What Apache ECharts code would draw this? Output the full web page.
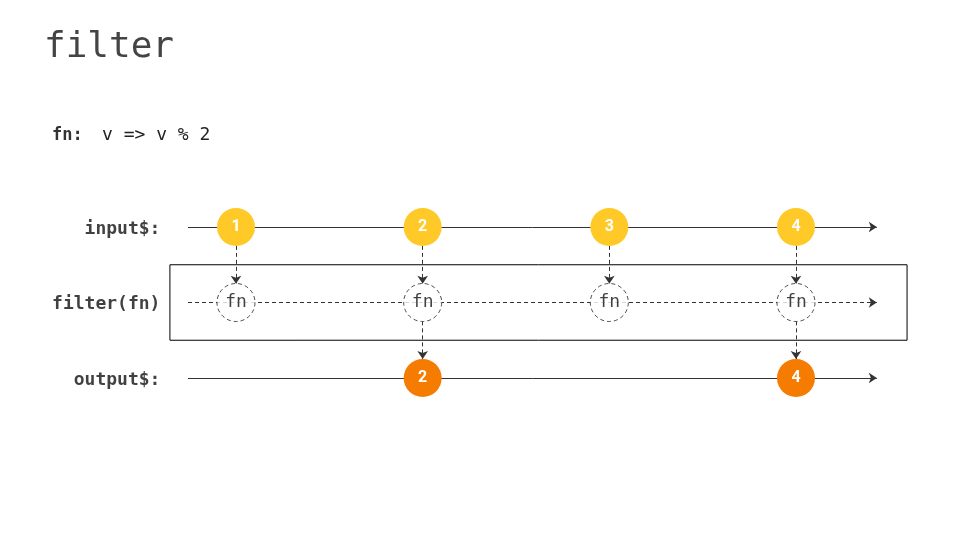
<!DOCTYPE html>
<html>
<head>
<meta charset="utf-8">
<script src="https://cdn.jsdelivr.net/npm/echarts@6/dist/echarts.min.js"></script>
<style>
  html, body { margin: 0; padding: 0; background: #fff; }
  #chart { width: 960px; height: 540px; }
</style>
</head>
<body>
<div id="chart"></div>
<script>
// marble diagram data
var inputTimes = [1, 2, 3, 4];
var inputValues = [1, 2, 3, 4];
var outputTimes = [2, 4];
var outputValues = [2, 4];
var rowLabels = ['input$:', 'filter(fn)', 'output$:'];
var rowIndex = [0, 1, 2];
var lineStart = 0.743;
var lineEnd = 4.433;

var MONO = '"DejaVu Sans Mono", "Liberation Mono", monospace';
var R = 0.25; // marble radius in row units

var chart = echarts.init(document.getElementById('chart'));

var hLines = function (row, dashed) {
  return {
    type: 'lines',
    coordinateSystem: 'cartesian2d',
    z: 1,
    symbol: ['none', 'arrow'],
    symbolSize: [5, 8],
    lineStyle: { color: '#333', width: 1, type: dashed ? [4, 3] : 'solid', opacity: 1 },
    data: [{ coords: [[lineStart, row], [lineEnd, row]] }],
    silent: true
  };
};

var vArrows = function (times, fromRow, toRow) {
  return {
    type: 'lines',
    coordinateSystem: 'cartesian2d',
    z: 1,
    symbol: ['none', 'arrow'],
    symbolSize: [5, 8],
    lineStyle: { color: '#333', width: 1, type: [4, 3], opacity: 1 },
    data: times.map(function (t) {
      return { coords: [[t, fromRow + R], [t, toRow - R]] };
    }),
    silent: true
  };
};

chart.setOption({
  animation: false,
  title: [
    { text: 'filter', left: 39, top: 25, textStyle: { fontFamily: MONO, fontSize: 36, fontWeight: 'normal', color: '#444' } },
    { text: 'fn:', left: 47, top: 122, textStyle: { fontFamily: MONO, fontSize: 17, fontWeight: 'bold', color: '#333' } },
    { text: 'v => v % 2', left: 97, top: 121, textStyle: { fontFamily: MONO, fontSize: 18, fontWeight: 'normal', color: '#222' } }
  ],
  grid: { left: 0, right: 0, top: 0, bottom: 0 },
  xAxis: { type: 'value', min: -0.2643, max: 4.8786, show: false },
  yAxis: { type: 'value', inverse: true, min: -3.007, max: 4.146, show: false },
  series: [
    hLines(0, false),
    hLines(1, true),
    hLines(2, false),
    vArrows(inputTimes, 0, 1),
    vArrows(outputTimes, 1, 2),
    {
      type: 'scatter',
      z: 0,
      symbolSize: 0,
      data: [],
      markArea: {
        silent: true,
        itemStyle: { color: 'rgba(0,0,0,0)', borderColor: '#000', borderWidth: 1 },
        data: [[{ xAxis: 0.646, yAxis: 0.5 }, { xAxis: 4.595, yAxis: 1.5 }]]
      }
    },
    {
      type: 'scatter',
      z: 3,
      symbolSize: 0,
      silent: true,
      data: rowIndex.map(function (r) { return [0.622, r, rowLabels[r]]; }),
      label: {
        show: true, position: 'left', distance: 5, offset: [0, 2],
        formatter: function (p) { return p.value[2]; },
        fontFamily: MONO, fontSize: 18, fontWeight: 'bold', color: '#111'
      }
    },
    {
      type: 'scatter',
      z: 3,
      symbol: 'circle',
      symbolSize: 38,
      silent: true,
      itemStyle: { color: '#fff', borderColor: '#222', borderWidth: 1, borderType: [4, 3] },
      data: inputTimes.map(function (t) { return [t, 1]; }),
      label: { show: true, position: 'inside', formatter: 'fn', fontFamily: MONO, fontSize: 18, color: '#111' }
    },
    {
      type: 'scatter',
      z: 4,
      symbolSize: 38,
      silent: true,
      itemStyle: { color: '#FFCA28', opacity: 1 },
      data: inputTimes.map(function (t, i) { return [t, 0, inputValues[i]]; }),
      label: {
        show: true, position: 'inside',
        formatter: function (p) { return p.value[2]; },
        fontFamily: 'Roboto', fontSize: 16, fontWeight: 'bold', color: '#fff'
      }
    },
    {
      type: 'scatter',
      z: 4,
      symbolSize: 38,
      silent: true,
      itemStyle: { color: '#F57C00', opacity: 1 },
      data: outputTimes.map(function (t, i) { return [t, 2, outputValues[i]]; }),
      label: {
        show: true, position: 'inside',
        formatter: function (p) { return p.value[2]; },
        fontFamily: 'Roboto', fontSize: 16, fontWeight: 'bold', color: '#fff'
      }
    }
  ]
});
</script>
</body>
</html>
